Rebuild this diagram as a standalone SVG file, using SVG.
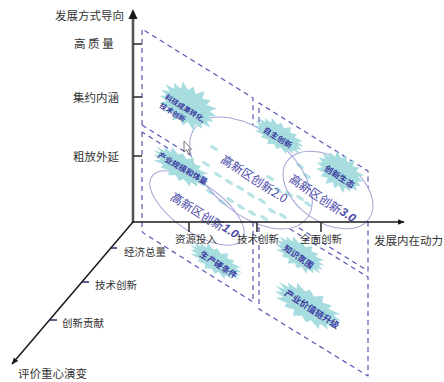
<svg xmlns="http://www.w3.org/2000/svg" xmlns:xlink="http://www.w3.org/1999/xlink" width="444" height="382" viewBox="0 0 444 382">
<style>
.pl{fill:none;stroke:#5656b4;stroke-width:1.2;stroke-dasharray:5 4;stroke-linejoin:round}
.ebg{fill:#fff;stroke:none}
.ell{fill:none;stroke:#a3a3d8;stroke-width:1}
.blob{fill:#a8dde0}
.dash{fill:#b9e4e6}
.ax{fill:none;stroke:#1a1a1a;stroke-width:1.5}
.vax{fill:none;stroke:#555;stroke-width:2.6}
.tick{stroke:#333;stroke-width:1.6}
.dtick{stroke:#2a2a6a;stroke-width:1.5}
.lbl{font-family:"Noto Sans CJK SC","Noto Sans",sans-serif;font-size:10.5px;fill:#333}
.big{font-size:11.5px}
.bt{font-family:"Noto Sans CJK SC",sans-serif;font-weight:bold;fill:#3b3ba0;text-anchor:middle;dominant-baseline:central}
.et{font-family:"Noto Sans CJK SC",sans-serif;font-size:12px;fill:#4848a8;text-anchor:middle;dominant-baseline:central}
.num{font-family:"Liberation Sans",sans-serif;font-weight:bold;font-style:italic}
</style>
<defs>
<path id="burst" d="M50,0 L39.8,2.9 L50.8,7.4 L34.3,7.9 L39.8,13.4 L26.1,12.4 L29,20.1 L13.5,14.9 L9.4,21.3 L0,16.2 L-10.1,22.9 L-13.5,14.9 L-27,18.7 L-26.1,12.4 L-42.9,14.4 L-34.3,7.9 L-48.9,7.1 L-39.8,2.9 L-52,0 L-39,-2.8 L-50.8,-7.4 L-35.1,-8.1 L-39.8,-13.4 L-25.4,-12.1 L-29,-20.1 L-13.9,-15.2 L-9.4,-21.3 L0,-15.8 L10.4,-23.6 L13.9,-15.2 L27,-18.7 L25.4,-12.1 L42.9,-14.4 L35.1,-8.1 L48.9,-7.1 L39,-2.8 Z"/>
<ellipse id="dsh" rx="4.5" ry="1.8" transform="rotate(32)"/>
<marker id="arr" viewBox="0 0 10 10" refX="9" refY="5" markerWidth="7" markerHeight="7" orient="auto" markerUnits="userSpaceOnUse">
<path d="M0,1 L10,5 L0,9 Z" fill="#1a1a1a"/>
</marker>
</defs>
<rect width="444" height="382" fill="#fff"/>

<g id="panels">
<path class="pl" d="M142,125 L142,29 L253,98 L253,194"/>
<path class="pl" d="M142,125 L253,194"/>
<path class="pl" d="M142,132 L142,230 Q142,233 145,234 L253,302 L253,201 Z"/>
<path class="pl" d="M259,203 L259,103 L368,171 L368,271 Z"/>
<path class="pl" d="M259,210 L368,277 L368,376 L259,309 Z"/>
</g>

<g id="ellipse-bg">
<ellipse class="ebg" cx="251" cy="173" rx="72" ry="41" transform="rotate(40 251 173)"/>
<ellipse class="ebg" cx="197" cy="208" rx="55" ry="24" transform="rotate(35 197 208)"/>
<ellipse class="ebg" cx="328" cy="190" rx="50" ry="32" transform="rotate(35 328 190)"/>
</g>

<g id="dashes" class="dash">
<use href="#dsh" x="218" y="175"/><use href="#dsh" x="229" y="182"/><use href="#dsh" x="240" y="188"/><use href="#dsh" x="251" y="195"/><use href="#dsh" x="262" y="201"/>
<use href="#dsh" x="230" y="200"/><use href="#dsh" x="241" y="207"/><use href="#dsh" x="252" y="213"/><use href="#dsh" x="264" y="218"/>
<use href="#dsh" x="210" y="192"/><use href="#dsh" x="222" y="202"/>
<use href="#dsh" x="270" y="178"/><use href="#dsh" x="278" y="190"/><use href="#dsh" x="289" y="194"/><use href="#dsh" x="300" y="198"/><use href="#dsh" x="308" y="204"/>
<use href="#dsh" x="272" y="211"/><use href="#dsh" x="283" y="216"/>
<use href="#dsh" x="300" y="166"/><use href="#dsh" x="307" y="176"/>
<use href="#dsh" x="206" y="164"/><use href="#dsh" x="214" y="148"/>
</g>

<g id="node-2">
<ellipse class="ell" cx="251" cy="173" rx="72" ry="41" transform="rotate(40 251 173)"/>
<text class="et" transform="translate(255,178) rotate(33)">高新区创新2.0</text>
</g>
<g id="node-1">
<ellipse class="ell" cx="197" cy="208" rx="55" ry="24" transform="rotate(35 197 208)"/>
<text class="et" transform="translate(205,215) rotate(32)">高新区创新<tspan class="num">1.0</tspan></text>
</g>
<g id="node-3">
<ellipse class="ell" cx="328" cy="190" rx="50" ry="32" transform="rotate(35 328 190)"/>
<text class="et" transform="translate(323,198) rotate(34)">高新区创新<tspan class="num">3.0</tspan></text>
</g>

<g id="node-kjcg">
<use href="#burst" class="blob" transform="translate(188,106) rotate(32) scale(0.6,0.9)"/>
<text class="bt" font-size="7.2" transform="translate(166,96) rotate(32)" style="text-anchor:start"><tspan x="0" y="0">科技成果转化,</tspan><tspan x="0" y="10">技术创新</tspan></text>
</g>
<g id="node-cygm">
<use href="#burst" class="blob" transform="translate(181,167) rotate(32) scale(0.62,0.6)"/>
<text class="bt" font-size="8" transform="translate(183,168) rotate(30)">产业规模和体量</text>
</g>
<g id="node-zzcx">
<use href="#burst" class="blob" transform="translate(279,136) rotate(32) scale(0.54,0.58)"/>
<text class="bt" font-size="8" transform="translate(278,137) rotate(32)">自主创新</text>
</g>
<g id="node-cxst">
<use href="#burst" class="blob" transform="translate(340,172) rotate(35) scale(0.5,0.78)"/>
<text class="bt" font-size="8.5" transform="translate(340,176) rotate(33)">创新生态</text>
</g>
<g id="node-scytj">
<use href="#burst" class="blob" transform="translate(216,261) rotate(32) scale(0.58,0.54)"/>
<text class="bt" font-size="8.5" transform="translate(219,264) rotate(33)">生产硬条件</text>
</g>
<g id="node-zsfw">
<use href="#burst" class="blob" transform="translate(300,255) rotate(33) scale(0.54,0.6)"/>
<text class="bt" font-size="8.5" transform="translate(299,256) rotate(35)">知识氛围</text>
</g>
<g id="node-cyjzl">
<use href="#burst" class="blob" transform="translate(308,306) rotate(32) scale(0.74,0.7)"/>
<text class="bt" font-size="9" transform="translate(312,309) rotate(33)">产业价值链升级</text>
</g>

<g id="connectors">
<line class="vax" x1="133" y1="223" x2="133" y2="17"/>
<path d="M133,9 L128.5,19 L137.5,19 Z" fill="#1a1a1a"/>
<line class="ax" x1="132" y1="222" x2="404" y2="222" marker-end="url(#arr)"/>
<line class="ax" x1="133" y1="222" x2="12" y2="364" marker-end="url(#arr)"/>
<line class="tick" x1="133" y1="44" x2="142" y2="44"/>
<line class="tick" x1="133" y1="97" x2="142" y2="97"/>
<line class="tick" x1="133" y1="156" x2="142" y2="156"/>
<line class="tick" x1="189" y1="222" x2="189" y2="232"/>
<line class="tick" x1="257" y1="222" x2="257" y2="232"/>
<line class="tick" x1="321" y1="222" x2="321" y2="232"/>
<line class="dtick" x1="110" y1="248" x2="117" y2="248"/>
<line class="dtick" x1="82" y1="282" x2="89" y2="282"/>
<line class="dtick" x1="50" y1="320" x2="57" y2="320"/>
</g>

<g id="labels">
<text class="lbl big" x="55" y="20">发展方式导向</text>
<text class="lbl big" x="74" y="48">高 质 量</text>
<text class="lbl big" x="73" y="102">集约内涵</text>
<text class="lbl big" x="73" y="161">粗放外延</text>
<text class="lbl" x="175" y="243">资源投入</text>
<text class="lbl" x="237" y="243">技术创新</text>
<text class="lbl" x="300" y="243">全面创新</text>
<text class="lbl big" x="374" y="245">发展内在动力</text>
<text class="lbl" x="124" y="256">经济总量</text>
<text class="lbl" x="95" y="289">技术创新</text>
<text class="lbl" x="62" y="327">创新贡献</text>
<text class="lbl big" x="18" y="378">评价重心演变</text>
</g>

<g id="cursor">
<path d="M184,141 L184,152 L186.6,149.8 L188.6,154.4 L190.2,153.7 L188.3,149.2 L191.6,149.2 Z" fill="#fff" stroke="#555" stroke-width="0.8"/>
</g>
</svg>
